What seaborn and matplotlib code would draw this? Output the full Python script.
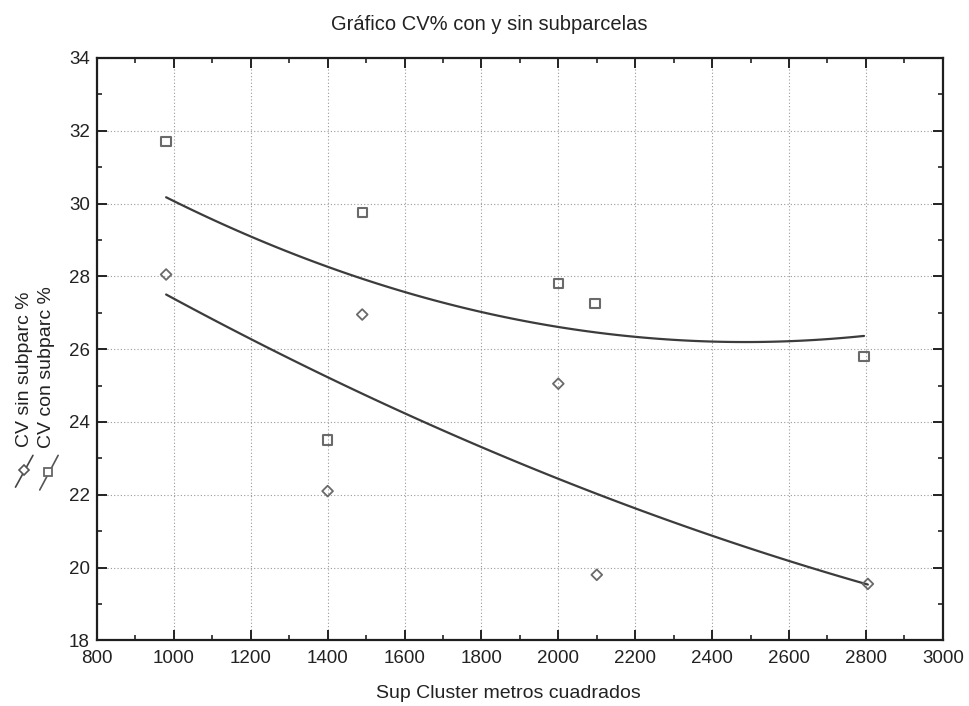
import numpy as np
import pandas as pd
import matplotlib
matplotlib.use("Agg")
import matplotlib.pyplot as plt
from matplotlib.lines import Line2D
from matplotlib.ticker import MultipleLocator
import seaborn as sns

# ---- data ----
sup_con = [980, 1400, 1490, 2000, 2095, 2795]
cv_con = [31.7, 23.5, 29.75, 27.8, 27.25, 25.8]
sup_sin = [980, 1400, 1490, 2000, 2100, 2805]
cv_sin = [28.05, 22.1, 26.95, 25.05, 19.8, 19.55]

title = "Gráfico CV% con y sin subparcelas"
xlabel = "Sup Cluster metros cuadrados"
lab_sin = "CV sin subparc %"
lab_con = "CV con subparc %"

df_con = pd.DataFrame({"x": sup_con, "y": cv_con})
df_sin = pd.DataFrame({"x": sup_sin, "y": cv_sin})

sns.set_theme(style="white")
plt.rcParams["font.family"] = ["Liberation Sans", "DejaVu Sans"]

fig = plt.figure(figsize=(9.69, 7.06), dpi=100, facecolor="white")
ax = fig.add_axes([0.100, 0.093, 0.873, 0.825])

line_col = "#3c3c3c"
mark_col = "#6a6a6a"

sns.regplot(data=df_con, x="x", y="y", order=2, ci=None, scatter=False, ax=ax,
            line_kws=dict(color=line_col, lw=1.6))
sns.regplot(data=df_sin, x="x", y="y", order=2, ci=None, scatter=False, ax=ax,
            line_kws=dict(color=line_col, lw=1.6))
sns.scatterplot(data=df_con, x="x", y="y", marker="s", s=45, facecolor="none",
                edgecolor=mark_col, linewidth=1.5, ax=ax, zorder=3)
sns.scatterplot(data=df_sin, x="x", y="y", marker="D", s=30, facecolor="none",
                edgecolor=mark_col, linewidth=1.3, ax=ax, zorder=3)

ax.set_xlim(800, 3000)
ax.set_ylim(18, 34)
ax.xaxis.set_major_locator(MultipleLocator(200))
ax.xaxis.set_minor_locator(MultipleLocator(100))
ax.yaxis.set_major_locator(MultipleLocator(2))
ax.yaxis.set_minor_locator(MultipleLocator(1))
ax.grid(True, which="major", linestyle=(0, (1, 2)), color="#9a9a9a", lw=0.8)
ax.tick_params(which="both", direction="in", top=True, right=True, bottom=True, left=True,
               colors="#222222", labelsize=13.5)
ax.tick_params(axis="x", which="major", pad=7)
ax.tick_params(axis="y", which="major", pad=5)
ax.tick_params(which="major", length=7, width=1.4)
ax.tick_params(which="minor", length=3.5, width=1.2)
for sp in ax.spines.values():
    sp.set_color("#1e1e1e")
    sp.set_linewidth(1.6)
ax.set_xlabel("")
ax.set_ylabel("")
for lab in ax.get_xticklabels() + ax.get_yticklabels():
    lab.set_color("#222222")
# lift the lowest y label slightly, like the reference
ylabs = ax.get_yticklabels()

fig.text(0.505, 0.966, title, ha="center", va="center", fontsize=14.5, color="#222222")
fig.text(0.525, 0.018, xlabel, ha="center", va="center", fontsize=14, color="#222222")

# y-axis legend-style labels
fig.text(0.025, 0.367, lab_sin, rotation=90, ha="center", va="bottom", fontsize=14, color="#222222")
fig.text(0.048, 0.365, lab_con, rotation=90, ha="center", va="bottom", fontsize=14, color="#222222")
fig.add_artist(Line2D([0.016, 0.034], [0.310, 0.355], transform=fig.transFigure,
                      color="#444444", lw=1.2, marker="None"))
fig.add_artist(Line2D([0.025], [0.334], transform=fig.transFigure, marker="D", ms=5,
                      mfc="white", mec="#555555", mew=1.2, linestyle="None"))
fig.add_artist(Line2D([0.041, 0.060], [0.306, 0.355], transform=fig.transFigure,
                      color="#555555", lw=1.2, marker="None"))
fig.add_artist(Line2D([0.050], [0.331], transform=fig.transFigure, marker="s", ms=6,
                      mfc="white", mec="#666666", mew=1.3, linestyle="None"))

fig.savefig("out.png", dpi=100, facecolor="white")
